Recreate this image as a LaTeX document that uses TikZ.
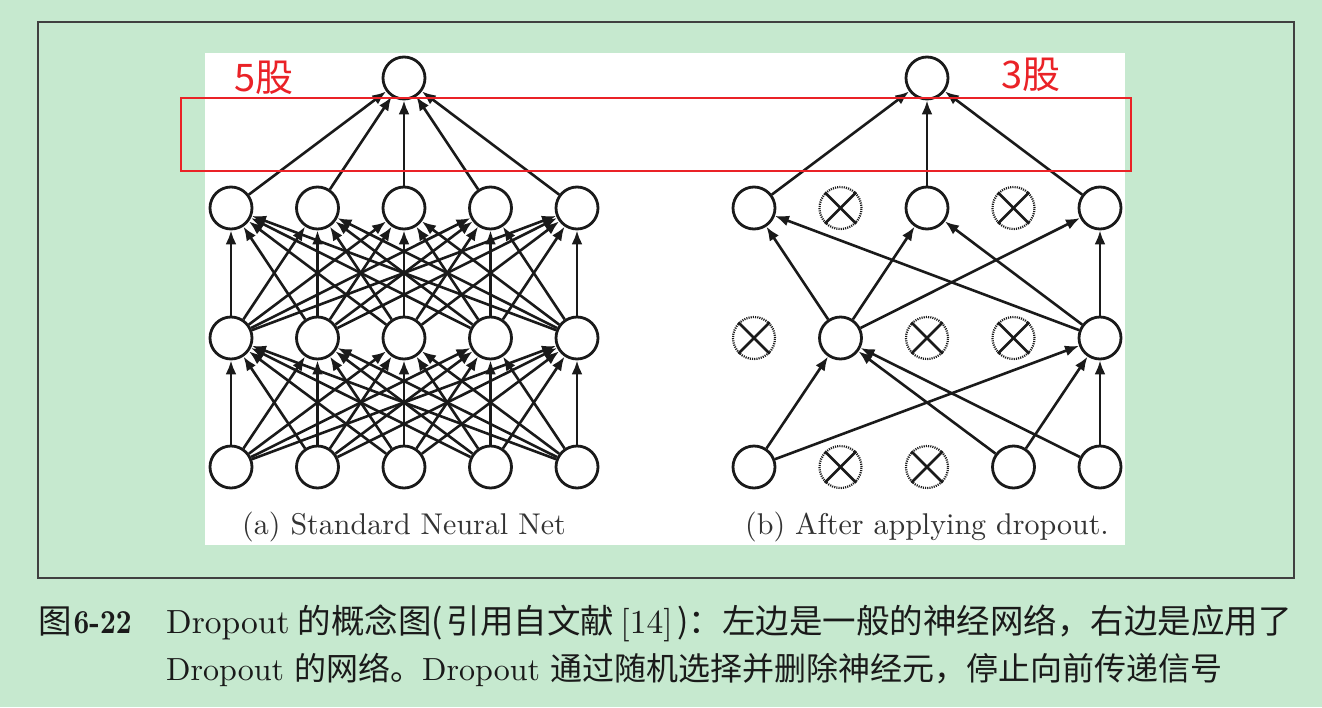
\documentclass[tikz,border=0pt]{standalone}
\usepackage{fontspec}
\newfontfamily\cjk{Noto Sans CJK SC}
\newfontfamily\lmten{lmroman10-regular}[Extension=.otf, BoldFont=lmroman10-bold]
\usetikzlibrary{arrows.meta}
\definecolor{bgg}{HTML}{C6E9CF}
\definecolor{redl}{HTML}{EA2227}
\definecolor{ink}{HTML}{1A1A1A}
\begin{document}
\begin{tikzpicture}[x=1pt,y=-1pt,
  neuron/.style={circle, draw=ink, line width=2.8pt, fill=white, minimum size=42pt, inner sep=0pt},
  dropn/.style={circle, draw=ink, line width=2.2pt, dash pattern=on 1.1pt off 1.1pt, minimum size=42pt, inner sep=0pt},
  xline/.style={draw=ink, line width=2.7pt},
  conn/.style={draw=ink, line width=2.6pt, -{Latex[length=14pt,width=11pt]}},
  subcap/.style={font=\lmten\fontsize{30}{31}\selectfont, text=black!80, inner sep=0pt},
  redlab/.style={font=\cjk\fontsize{38}{40}\selectfont, text=redl, inner sep=0pt, anchor=west},
  capt/.style={font=\lmten\fontsize{33.5}{36}\selectfont, text=ink, inner sep=0pt, anchor=base west},
  captb/.style={font=\lmten\fontsize{32}{36}\selectfont, text=ink, inner sep=0pt, anchor=base west}]
\useasboundingbox (0,0) rectangle (1322,707);
\fill[bgg] (0,0) rectangle (1322,707);
\draw[draw=black!75, line width=1.4pt] (38,22) rectangle (1294,578);
\fill[white] (205,53) rectangle (1125,545);

% ---------- left network ----------
\foreach \j/\x in {1/231,2/317.5,3/404,4/490.5,5/577}{
  \node[neuron] (La\j) at (\x,467) {};
  \node[neuron] (Lb\j) at (\x,338) {};
  \node[neuron] (Lc\j) at (\x,208) {};
}
\node[neuron] (Lo) at (404,78) {};
\foreach \i in {1,...,5}{
  \foreach \j in {1,...,5}{
    \draw[conn] (La\i) -- (Lb\j);
    \draw[conn] (Lb\i) -- (Lc\j);
  }
  \draw[conn] (Lc\i) -- (Lo);
}

% ---------- right network ----------
\node[neuron] (Ra1) at (754,467) {};
\node[dropn]  (Ra2) at (840.5,467) {};
\node[dropn]  (Ra3) at (927,467) {};
\node[neuron] (Ra4) at (1013.5,467) {};
\node[neuron] (Ra5) at (1100,467) {};
\node[dropn]  (Rb1) at (754,338) {};
\node[neuron] (Rb2) at (840.5,338) {};
\node[dropn]  (Rb3) at (927,338) {};
\node[dropn]  (Rb4) at (1013.5,338) {};
\node[neuron] (Rb5) at (1100,338) {};
\node[neuron] (Rc1) at (754,208) {};
\node[dropn]  (Rc2) at (840.5,208) {};
\node[neuron] (Rc3) at (927,208) {};
\node[dropn]  (Rc4) at (1013.5,208) {};
\node[neuron] (Rc5) at (1100,208) {};
\node[neuron] (Ro) at (927,78) {};
\foreach \n in {Ra2,Ra3,Rb1,Rb3,Rb4,Rc2,Rc4}{
  \draw[xline] (\n.north west) -- (\n.south east);
  \draw[xline] (\n.north east) -- (\n.south west);
}
\foreach \a/\b in {Ra1/Rb2,Ra1/Rb5,Ra4/Rb2,Ra4/Rb5,Ra5/Rb2,Ra5/Rb5,
                   Rb2/Rc1,Rb2/Rc3,Rb2/Rc5,Rb5/Rc1,Rb5/Rc3,Rb5/Rc5,
                   Rc1/Ro,Rc3/Ro,Rc5/Ro}{
  \draw[conn] (\a) -- (\b);
}

% ---------- sub captions ----------
\node[subcap] (capa) at (404,527) {(a) Standard Neural Net};
\node[subcap] (capb) at (927,527) {(b) After applying dropout.};

% ---------- red annotations ----------
\draw[draw=redl, line width=2pt] (181,98) rectangle (1131,171);
\node[redlab] (five) at (234,78) {5股};
\node[redlab] (three) at (1001,75) {3股};

% ---------- figure caption ----------
\node[capt] (fig) at (38,633) {{\cjk 图}\hspace{2pt}\scalebox{0.82}[1]{\bfseries 6-22}};
\node[capt] (line1) at (166,633) {Dropout\hspace{8pt}{\cjk 的概念图(\hspace{4pt}引用自文献}\hspace{6pt}[14]\hspace{5pt}{\cjk )：左边是一般的神经网络，右边是应用了}};
\node[captb] (line2) at (166,680) {Dropout\hspace{10pt}{\cjk 的网络。}Dropout\hspace{10pt}{\cjk 通过随机选择并删除神经元，停止向前传递信号}};
\end{tikzpicture}
\end{document}
